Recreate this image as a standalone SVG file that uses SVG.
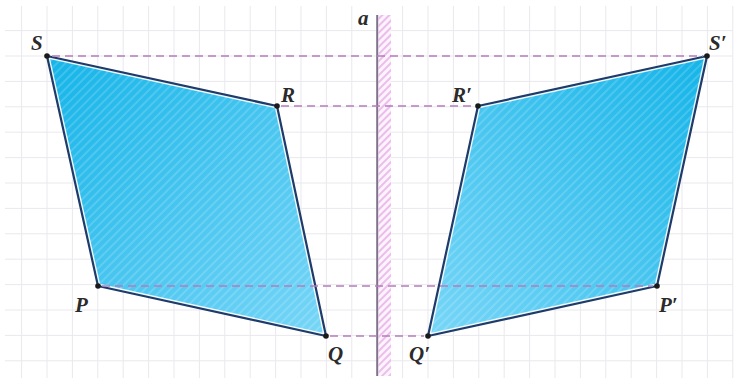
<svg xmlns="http://www.w3.org/2000/svg" width="737" height="385" viewBox="0 0 737 385">
  <defs>
    <style>
      .grid line { stroke: #e9e9ee; stroke-width: 1; }
      .dash { stroke: #b57cbd; stroke-width: 1.3; stroke-dasharray: 8 5; fill: none; }
      .edge { fill: none; stroke: #1f3b6a; stroke-width: 2.2; stroke-linejoin: round; }
      .inner { fill: none; stroke: #ffffff; stroke-width: 5; stroke-linejoin: round; opacity: 0.9; }
      .lbl { font-family: "Liberation Serif", "DejaVu Serif", serif; font-style: italic; font-weight: bold; font-size: 21px; fill: #2b2b2b; }
      .dot { fill: #1a1a1a; }
    </style>
    <linearGradient id="gL" x1="0" y1="0" x2="1" y2="1">
      <stop offset="0" stop-color="#14b4e8"/>
      <stop offset="1" stop-color="#78d6f7"/>
    </linearGradient>
    <linearGradient id="gR" x1="1" y1="0" x2="0" y2="1">
      <stop offset="0" stop-color="#14b4e8"/>
      <stop offset="1" stop-color="#78d6f7"/>
    </linearGradient>
    <pattern id="hatch" width="6" height="6" patternUnits="userSpaceOnUse" patternTransform="rotate(45)">
      <rect x="0" y="0" width="2" height="6" fill="#ffffff" opacity="0.16"/>
    </pattern>
    <pattern id="pink" width="5" height="5" patternUnits="userSpaceOnUse" patternTransform="rotate(45)">
      <rect x="0" y="0" width="5" height="5" fill="#fdf3fd"/>
      <rect x="0" y="0" width="2" height="5" fill="#ebbdeb"/>
    </pattern>
    <clipPath id="cL"><polygon points="47,56 277,106 326,336 98,286"/></clipPath>
    <clipPath id="cR"><polygon points="707,56 478,106 428,336 657,286"/></clipPath>
  </defs>
  <rect x="0" y="0" width="737" height="385" fill="#ffffff"/>
  <g class="grid" id="grid">
    <line x1="5" y1="30.6" x2="733" y2="30.6"/>
    <line x1="5" y1="56" x2="733" y2="56"/>
    <line x1="5" y1="81.4" x2="733" y2="81.4"/>
    <line x1="5" y1="106.8" x2="733" y2="106.8"/>
    <line x1="5" y1="132.2" x2="733" y2="132.2"/>
    <line x1="5" y1="157.6" x2="733" y2="157.6"/>
    <line x1="5" y1="183" x2="733" y2="183"/>
    <line x1="5" y1="208.4" x2="733" y2="208.4"/>
    <line x1="5" y1="233.8" x2="733" y2="233.8"/>
    <line x1="5" y1="259.2" x2="733" y2="259.2"/>
    <line x1="5" y1="284.6" x2="733" y2="284.6"/>
    <line x1="5" y1="310" x2="733" y2="310"/>
    <line x1="5" y1="335.4" x2="733" y2="335.4"/>
    <line x1="5" y1="360.8" x2="733" y2="360.8"/>
    <line x1="21.6" y1="6" x2="21.6" y2="378"/>
    <line x1="47" y1="6" x2="47" y2="378"/>
    <line x1="72.4" y1="6" x2="72.4" y2="378"/>
    <line x1="97.8" y1="6" x2="97.8" y2="378"/>
    <line x1="123.2" y1="6" x2="123.2" y2="378"/>
    <line x1="148.6" y1="6" x2="148.6" y2="378"/>
    <line x1="174" y1="6" x2="174" y2="378"/>
    <line x1="199.4" y1="6" x2="199.4" y2="378"/>
    <line x1="224.8" y1="6" x2="224.8" y2="378"/>
    <line x1="250.2" y1="6" x2="250.2" y2="378"/>
    <line x1="275.6" y1="6" x2="275.6" y2="378"/>
    <line x1="301" y1="6" x2="301" y2="378"/>
    <line x1="326.4" y1="6" x2="326.4" y2="378"/>
    <line x1="351.8" y1="6" x2="351.8" y2="378"/>
    <line x1="402.6" y1="6" x2="402.6" y2="378"/>
    <line x1="428" y1="6" x2="428" y2="378"/>
    <line x1="453.4" y1="6" x2="453.4" y2="378"/>
    <line x1="478.8" y1="6" x2="478.8" y2="378"/>
    <line x1="504.2" y1="6" x2="504.2" y2="378"/>
    <line x1="529.6" y1="6" x2="529.6" y2="378"/>
    <line x1="555" y1="6" x2="555" y2="378"/>
    <line x1="580.4" y1="6" x2="580.4" y2="378"/>
    <line x1="605.8" y1="6" x2="605.8" y2="378"/>
    <line x1="631.2" y1="6" x2="631.2" y2="378"/>
    <line x1="656.6" y1="6" x2="656.6" y2="378"/>
    <line x1="682" y1="6" x2="682" y2="378"/>
    <line x1="707.4" y1="6" x2="707.4" y2="378"/>
    <line x1="732.8" y1="6" x2="732.8" y2="378"/>
  </g>
  <g id="axis">
    <rect x="378.5" y="15" width="12.5" height="361" fill="url(#pink)"/>
    <line x1="377.2" y1="15" x2="377.2" y2="376" stroke="#80728a" stroke-width="2"/>
    <text class="lbl" x="358" y="25">a</text>
  </g>
  <g id="PQRS">
    <polygon points="47,56 277,106 326,336 98,286" fill="url(#gL)"/>
    <polygon points="47,56 277,106 326,336 98,286" fill="url(#hatch)"/>
    <polygon points="47,56 277,106 326,336 98,286" class="inner" clip-path="url(#cL)"/>
    <polygon points="47,56 277,106 326,336 98,286" class="edge"/>
  </g>
  <g id="PQRS-image">
    <polygon points="707,56 478,106 428,336 657,286" fill="url(#gR)"/>
    <polygon points="707,56 478,106 428,336 657,286" fill="url(#hatch)"/>
    <polygon points="707,56 478,106 428,336 657,286" class="inner" clip-path="url(#cR)"/>
    <polygon points="707,56 478,106 428,336 657,286" class="edge"/>
  </g>
  <g id="connectors">
    <line class="dash" x1="52" y1="56" x2="703" y2="56"/>
    <line class="dash" x1="281" y1="106" x2="474" y2="106"/>
    <line class="dash" x1="102" y1="286" x2="653" y2="286"/>
    <line class="dash" x1="330" y1="336" x2="424" y2="336"/>
  </g>
  <g id="vertices">
    <circle class="dot" cx="47" cy="56" r="2.8"/>
    <circle class="dot" cx="277" cy="106" r="2.8"/>
    <circle class="dot" cx="326" cy="336" r="2.8"/>
    <circle class="dot" cx="98" cy="286" r="2.8"/>
    <circle class="dot" cx="707" cy="56" r="2.8"/>
    <circle class="dot" cx="478" cy="106" r="2.8"/>
    <circle class="dot" cx="428" cy="336" r="2.8"/>
    <circle class="dot" cx="657" cy="286" r="2.8"/>
  </g>
  <g id="labels">
    <text class="lbl" x="31" y="50">S</text>
    <text class="lbl" x="281" y="102">R</text>
    <text class="lbl" x="75" y="312">P</text>
    <text class="lbl" x="328" y="361">Q</text>
    <text class="lbl" x="709" y="50">S′</text>
    <text class="lbl" x="452" y="102">R′</text>
    <text class="lbl" x="659" y="312">P′</text>
    <text class="lbl" x="409" y="361">Q′</text>
  </g>
</svg>
